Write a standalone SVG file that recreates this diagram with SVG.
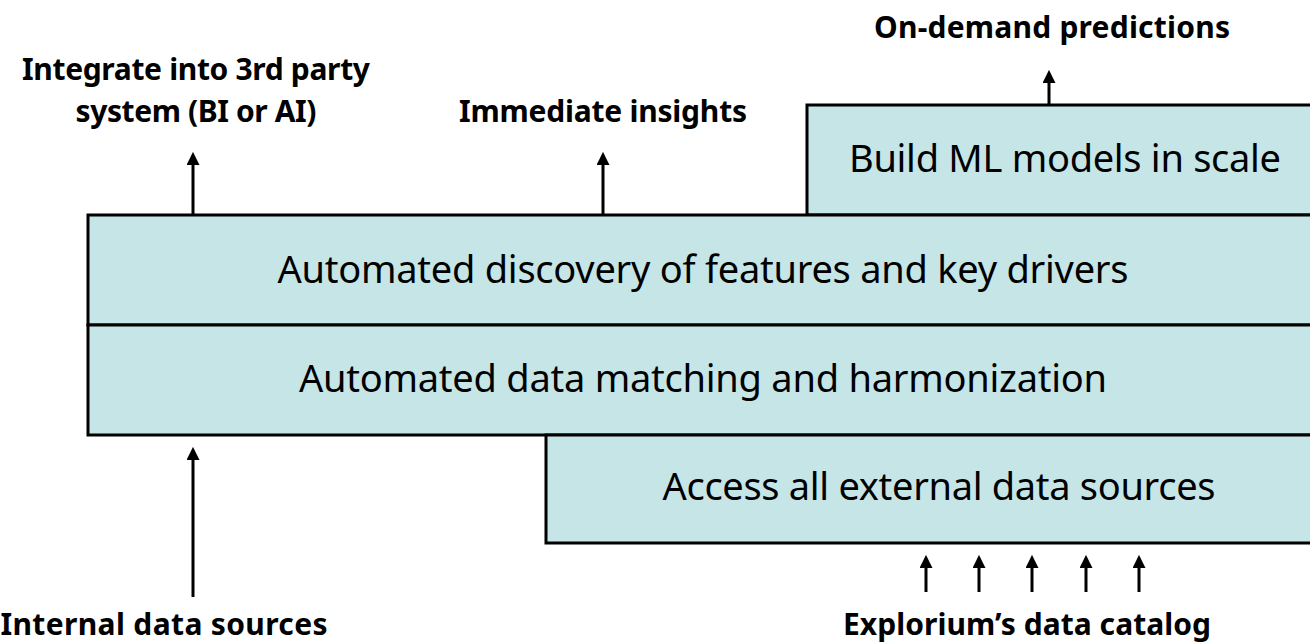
<svg xmlns="http://www.w3.org/2000/svg" width="1310" height="643" viewBox="0 0 1310 643">
<defs>
<marker id="ah" viewBox="0 0 10 10" refX="3" refY="5" markerWidth="13" markerHeight="13" markerUnits="userSpaceOnUse" orient="auto">
<path d="M0,0 L10,5 L0,10 Z" fill="#000"/>
</marker>
<style>
.box{fill:#C5E5E7;stroke:#000;stroke-width:3}
.t{font-family:"Noto Sans","Liberation Sans",sans-serif;font-size:38px;fill:#000;text-anchor:middle}
.b{font-family:"Noto Sans","Liberation Sans",sans-serif;font-size:30px;font-weight:bold;fill:#000;text-anchor:middle}
.c{stroke:#000;stroke-width:3;fill:none}
</style>
</defs>
<rect width="1310" height="643" fill="#fff"/>
<g id="node-build">
<rect class="box" x="807" y="105" width="520" height="110"/>
<text class="t" x="1065" y="172" textLength="432">Build ML models in scale</text>
</g>
<g id="node-discovery">
<rect class="box" x="88" y="215" width="1240" height="110"/>
<text class="t" x="703" y="283" textLength="851">Automated discovery of features and key drivers</text>
</g>
<g id="node-matching">
<rect class="box" x="88" y="325" width="1240" height="110"/>
<text class="t" x="703" y="392" textLength="808">Automated data matching and harmonization</text>
</g>
<g id="node-access">
<rect class="box" x="546" y="435" width="780" height="108"/>
<text class="t" x="939" y="500" textLength="553">Access all external data sources</text>
</g>
<g id="labels">
<text class="b" x="1052" y="38" textLength="356">On-demand predictions</text>
<text class="b" x="196" y="80" textLength="348">Integrate into 3rd party</text>
<text class="b" x="196" y="122" textLength="241">system (BI or AI)</text>
<text class="b" x="603" y="122" textLength="288">Immediate insights</text>
<text class="b" x="164" y="635" textLength="327">Internal data sources</text>
<text class="b" x="1027" y="635" textLength="368">Explorium’s data catalog</text>
</g>
<g id="connectors">
<line class="c" x1="193" y1="214" x2="193" y2="161" marker-end="url(#ah)"/>
<line class="c" x1="603" y1="214" x2="603" y2="161" marker-end="url(#ah)"/>
<line class="c" x1="1049" y1="104" x2="1049" y2="79" marker-end="url(#ah)"/>
<line class="c" x1="193" y1="597" x2="193" y2="456" marker-end="url(#ah)"/>
<line class="c" x1="926" y1="592" x2="926" y2="564" marker-end="url(#ah)"/>
<line class="c" x1="979" y1="592" x2="979" y2="564" marker-end="url(#ah)"/>
<line class="c" x1="1032" y1="592" x2="1032" y2="564" marker-end="url(#ah)"/>
<line class="c" x1="1086" y1="592" x2="1086" y2="564" marker-end="url(#ah)"/>
<line class="c" x1="1139" y1="592" x2="1139" y2="564" marker-end="url(#ah)"/>
</g>
</svg>
